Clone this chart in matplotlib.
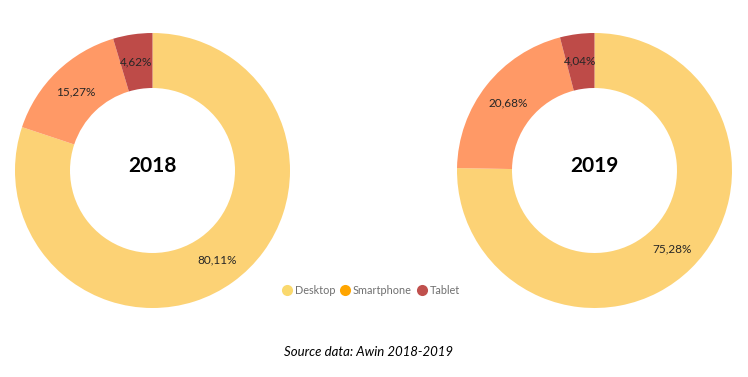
import matplotlib.pyplot as plt
from matplotlib.lines import Line2D

plt.rcParams['font.family'] = ['Lato', 'DejaVu Sans']

categories = ['Desktop', 'Smartphone', 'Tablet']
years = ['2018', '2019']
shares_2018 = [80.11, 15.27, 4.62]
shares_2019 = [75.28, 20.68, 4.04]
slice_colors = ['#FCD275', '#FF9966', '#BE4B48']
legend_colors = ['#FAD96E', '#FFA500', '#C0504D']

W, H = 748, 377


def donut(ax, values, year):
    wedges, texts, autotexts = ax.pie(
        values, colors=slice_colors, startangle=90, counterclock=False,
        radius=1.0, pctdistance=0.8,
        autopct=lambda p: ('%.2f%%' % p).replace('.', ','),
        wedgeprops=dict(width=0.4, edgecolor='none'),
        textprops=dict(fontsize=8.5, color='#262626'))
    ax.text(0, 0.03, year, ha='center', va='center', fontsize=15,
            fontweight='bold', color='black')
    ax.set_xlim(-1, 1)
    ax.set_ylim(-1, 1)
    ax.set_aspect('equal')
    ax.axis('off')


def main():
    fig = plt.figure(figsize=(W / 100, H / 100), dpi=100)
    fig.patch.set_facecolor('white')

    centers = [(152.5, 170.5), (594.5, 170.5)]
    r = 137.5
    for (cx, cy), vals, yr in zip(centers, [shares_2018, shares_2019], years):
        ax = fig.add_axes([(cx - r) / W, (H - cy - r) / H, 2 * r / W, 2 * r / H])
        donut(ax, vals, yr)

    handles = [Line2D([], [], marker='o', linestyle='none', markersize=8,
                      markerfacecolor=c, markeredgecolor='none')
               for c in legend_colors]
    fig.legend(handles, categories, loc='center', bbox_to_anchor=(371 / W, 1 - 290 / H),
               ncol=3, frameon=False, fontsize=7.8, handlelength=0.9,
               handletextpad=0.25, columnspacing=0.5, labelcolor='#707070')

    fig.text(369 / W, 1 - 352 / H, 'Source data: Awin 2018-2019', ha='center',
             va='center', fontsize=9.5, style='italic', color='black')

    fig.savefig('out.png', dpi=100)


if __name__ == '__main__':
    main()
